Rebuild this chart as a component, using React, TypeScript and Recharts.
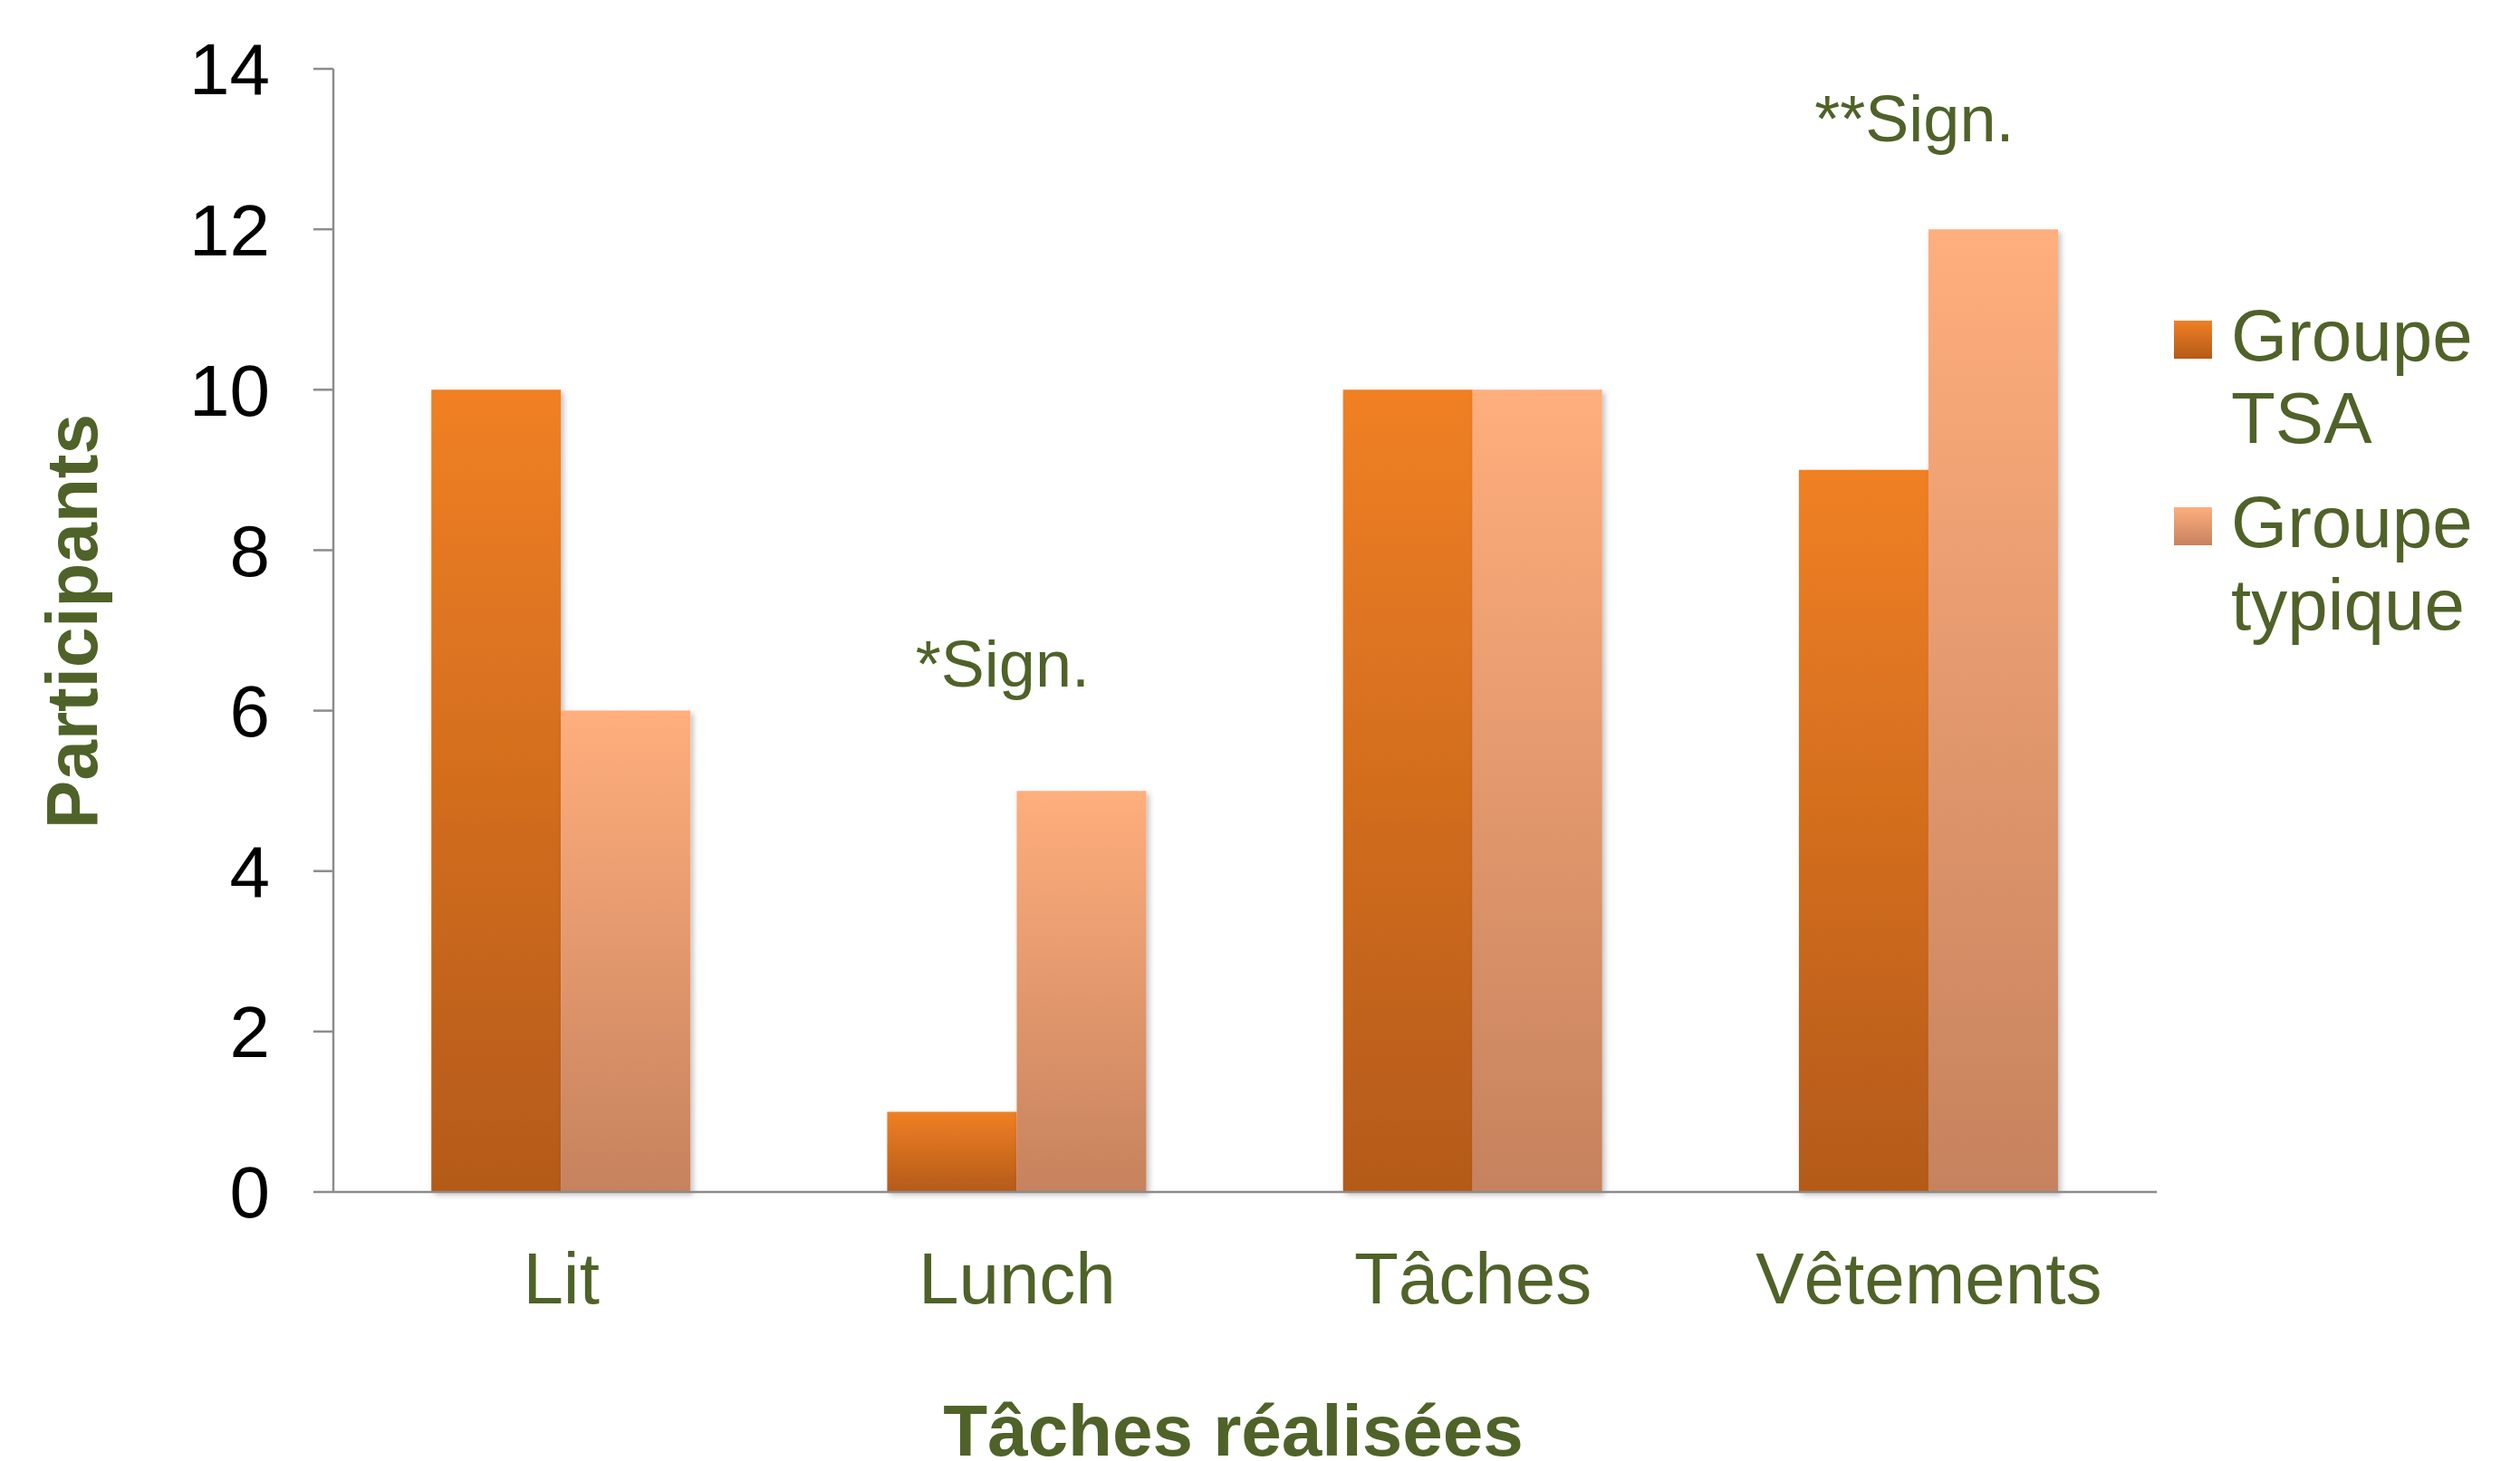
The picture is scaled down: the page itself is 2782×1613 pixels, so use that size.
import { BarChart, Bar, XAxis, YAxis, Legend, ReferenceDot } from 'recharts';

const categories = ['Lit', 'Lunch', 'Tâches', 'Vêtements'];
const tsaValues = [10, 1, 10, 9];
const typiqueValues = [6, 5, 10, 12];
const yTicks = [0, 2, 4, 6, 8, 10, 12, 14];

const seriesNames = ['Groupe TSA', 'Groupe typique'];
const seriesKeys = ['tsa', 'typique'];
const topColors = ['#F08024', '#FFAE7C'];
const bottomColors = ['#B45A19', '#C6825E'];

const annotationCats = ['Lunch', 'Vêtements'];
const annotationValues = [6.3, 13.1];
const annotationTexts = ['*Sign.', '**Sign.'];

const GREEN = '#4F6228';
const AXIS = '#8C8C8C';
const FONT = '"Liberation Sans", Arial, sans-serif';

const data = categories.map((c, i) => ({ name: c, tsa: tsaValues[i], typique: typiqueValues[i] }));

function LegendBox({ payload }: any) {
  return (
    <div style={{ width: 383, fontFamily: FONT, fontSize: 80, lineHeight: '91px', color: GREEN }}>
      {(payload || []).map((p: any, i: number) => {
        const idx = seriesKeys.indexOf(p.dataKey);
        return (
          <div key={i} style={{ display: 'flex', alignItems: 'flex-start', marginBottom: 24 }}>
            <div
              style={{
                width: 42,
                height: 42,
                marginTop: 29,
                marginLeft: 1,
                flex: 'none',
                background: `linear-gradient(${topColors[idx]}, ${bottomColors[idx]})`,
              }}
            />
            <div style={{ marginLeft: 21, width: 300 }}>{p.value}</div>
          </div>
        );
      })}
    </div>
  );
}

function YLabel({ viewBox }: any) {
  const x = viewBox.x + 79;
  const y = viewBox.y + viewBox.height / 2 - 10;
  return (
    <text x={x} y={y} transform={`rotate(-90, ${x}, ${y})`} textAnchor="middle" dominantBaseline="central"
      fill={GREEN} fontFamily={FONT} fontSize={80} fontWeight="bold">
      Participants
    </text>
  );
}

function XLabel({ viewBox }: any) {
  const x = viewBox.x + viewBox.width / 2 - 13;
  const y = viewBox.y + 291;
  return (
    <text x={x} y={y} textAnchor="middle" fill={GREEN} fontFamily={FONT} fontSize={80} fontWeight="bold">
      Tâches réalisées
    </text>
  );
}

function SignLabel(text: string) {
  return ({ viewBox }: any) => {
    const cx = viewBox.x + (viewBox.width || 0) / 2;
    const cy = viewBox.y + (viewBox.height || 0) / 2;
    return (
      <text x={cx - 16} y={cy} textAnchor="middle" fill={GREEN} fontFamily={FONT} fontSize={72}>
        {text}
      </text>
    );
  };
}

export default function App() {
  return (
    <div style={{ position: 'absolute', left: 0, top: 0, background: '#fff' }}>
      <BarChart width={2782} height={1613} data={data}
        margin={{ top: 76, right: 18, bottom: 0, left: 0 }}
        barCategoryGap="21.5%" barGap={0}>
        <defs>
          {seriesKeys.map((k, i) => (
            <linearGradient key={k} id={`grad-${k}`} x1="0" y1="0" x2="0" y2="1">
              <stop offset="0%" stopColor={topColors[i]} />
              <stop offset="100%" stopColor={bottomColors[i]} />
            </linearGradient>
          ))}
          <filter id="barShadow" x="-10%" y="-10%" width="130%" height="130%">
            <feDropShadow dx="3" dy="3" stdDeviation="3" floodColor="#000" floodOpacity="0.25" />
          </filter>
        </defs>
        <XAxis dataKey="name" height={297} tickLine={false} tickSize={0} tickMargin={66}
          axisLine={{ stroke: AXIS, strokeWidth: 2.5 }}
          tick={{ fill: GREEN, fontSize: 80, fontFamily: FONT }}
          label={<XLabel />} />
        <YAxis width={368} domain={[0, 14]} ticks={yTicks} interval={0}
          tickSize={22} tickMargin={48}
          axisLine={{ stroke: AXIS, strokeWidth: 2.5 }}
          tickLine={{ stroke: AXIS, strokeWidth: 2.5 }}
          tick={{ fill: '#000', fontSize: 80, fontFamily: FONT }}
          label={<YLabel />} />
        <Legend layout="vertical" align="right" verticalAlign="top"
          wrapperStyle={{ top: 325, right: 0, width: 383 }}
          content={<LegendBox />} />
        {seriesKeys.map((k, i) => (
          <Bar key={k} dataKey={k} name={seriesNames[i]} fill={`url(#grad-${k})`}
            filter="url(#barShadow)" isAnimationActive={false} />
        ))}
        {annotationCats.map((c, i) => (
          <ReferenceDot key={c} x={c} y={annotationValues[i]} r={0} ifOverflow="visible"
            fill="none" stroke="none" label={SignLabel(annotationTexts[i])} />
        ))}
      </BarChart>
    </div>
  );
}
